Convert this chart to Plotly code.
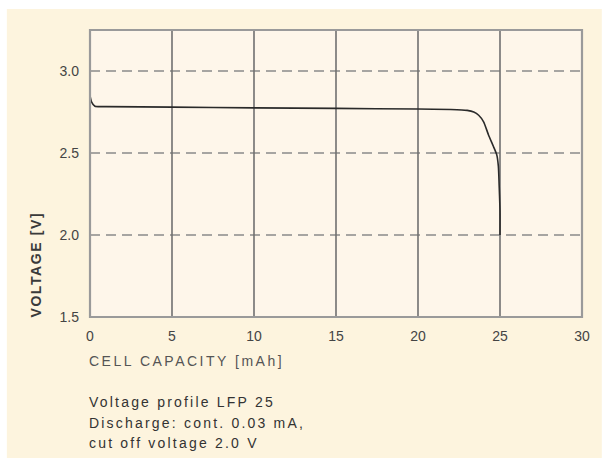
import plotly.graph_objects as go

# Discharge curve of the LFP 25 cell
capacity_mah = [0.0, 0.1, 0.3, 1.0, 5.0, 10.0, 15.0, 20.0, 22.0, 23.0, 23.4, 23.7, 24.0,
                24.3, 24.6, 24.8, 24.9, 24.95, 25.0, 25.0]
voltage_v = [2.85, 2.81, 2.785, 2.783, 2.78, 2.775, 2.772, 2.768, 2.765, 2.76, 2.75, 2.73,
             2.69, 2.61, 2.54, 2.49, 2.42, 2.30, 2.15, 2.0]

x_ticks = [0, 5, 10, 15, 20, 25, 30]
y_ticks = [1.5, 2.0, 2.5, 3.0]
y_dashed = [2.0, 2.5, 3.0]

x_title = "CELL CAPACITY [mAh]"
y_title = "VOLTAGE [V]"
notes = ["Voltage profile LFP 25", "Discharge: cont. 0.03 mA,", "cut off voltage 2.0 V"]

W, H = 602, 458
ML, MR, MT, MB = 90, 15, 30, 141
pw, ph = W - ML - MR, H - MT - MB

def px_x(p):
    return (p - ML) / pw

def px_y(p):
    return (H - MB - p) / ph

def spaced(text, px):
    return f'<span style="letter-spacing:{px}px">{text}</span>'

outer_bg = "rgb(253,244,222)"
inner_bg = "rgb(254,246,234)"
font = "Liberation Sans, Arial, sans-serif"

fig = go.Figure()
fig.add_trace(go.Scatter(x=capacity_mah, y=voltage_v, mode="lines",
                         line=dict(color="#2a2a2a", width=1.6, shape="spline", smoothing=0.6),
                         hoverinfo="skip", showlegend=False))

shapes = [
    dict(type="rect", xref="paper", yref="paper", x0=px_x(6), x1=px_x(W + 5),
         y0=px_y(H + 5), y1=px_y(9), fillcolor=outer_bg, line=dict(width=0), layer="below"),
    dict(type="rect", xref="paper", yref="paper", x0=0, x1=1, y0=0, y1=1,
         fillcolor=inner_bg, line=dict(width=0), layer="below"),
]
for yv in y_dashed:
    shapes.append(dict(type="line", xref="paper", yref="y", x0=0, x1=1, y0=yv, y1=yv,
                       line=dict(color="#8a8a8a", width=1.6, dash="10px,6px"), layer="below"))
for xv in x_ticks[1:-1]:
    shapes.append(dict(type="line", xref="x", yref="paper", x0=xv, x1=xv, y0=0, y1=1,
                       line=dict(color="#707070", width=1.6), layer="below"))
shapes.append(dict(type="rect", xref="paper", yref="paper", x0=0, x1=1, y0=0, y1=1,
                   line=dict(color="#9a9a9a", width=2.2), layer="above"))

annotations = [
    dict(text=spaced(x_title, 2.5), xref="paper", yref="paper", x=px_x(87), y=px_y(361),
         xanchor="left", yanchor="middle", showarrow=False,
         font=dict(family=font, size=14, color="#555555")),
    dict(text=spaced("<b>" + y_title + "</b>", 1.6), xref="paper", yref="paper",
         x=px_x(35), y=px_y(265), xanchor="center", yanchor="middle", textangle=-90,
         showarrow=False, font=dict(family=font, size=14, color="#3a3a3a")),
]
for i, line in enumerate(notes):
    annotations.append(dict(text=spaced(line, 2.2), xref="paper", yref="paper", x=px_x(87),
                            y=px_y(402 + 20.5 * i), xanchor="left", yanchor="middle",
                            showarrow=False,
                            font=dict(family=font, size=14, color="#333333")))

fig.update_layout(
    width=W, height=H,
    margin=dict(l=ML, r=MR, t=MT, b=MB),
    paper_bgcolor="white", plot_bgcolor=inner_bg,
    shapes=shapes, annotations=annotations,
    xaxis=dict(range=[0, 30], tickvals=x_ticks, showgrid=False, zeroline=False,
               showline=False, ticks="", ticklabelstandoff=9,
               tickfont=dict(family=font, size=14, color="#444444")),
    yaxis=dict(range=[1.5, 3.25], tickvals=y_ticks, tickformat=".1f", showgrid=False,
               zeroline=False, showline=False, ticks="", ticklabelstandoff=10,
               tickfont=dict(family=font, size=14, color="#444444")),
)

fig.write_html("out.html")
